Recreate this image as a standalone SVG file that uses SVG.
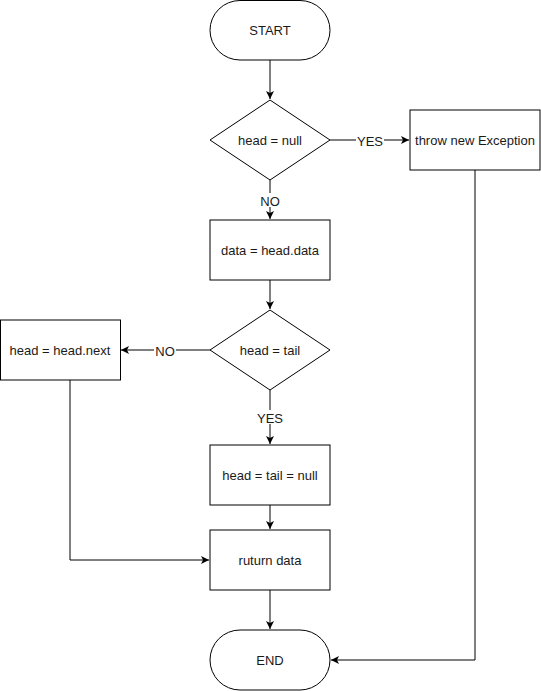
<svg xmlns="http://www.w3.org/2000/svg" width="541" height="691" viewBox="0 0 541 691">
<style>
.n{fill:#fff;stroke:#000;stroke-width:1}
.t{font-family:"Liberation Sans",Arial,Helvetica,sans-serif;font-size:13px;fill:#1a1a1a;text-anchor:middle;dominant-baseline:central}
.e{fill:none;stroke:#000;stroke-width:1}
.lb{fill:#fff}
</style>
<defs>
<marker id="a" markerUnits="userSpaceOnUse" markerWidth="10" markerHeight="10" refX="8" refY="4.5" orient="auto">
<path d="M0,0.5 L8,4.5 L0,8.5 L2,4.5 Z" fill="#000"/>
</marker>
</defs>
<rect width="541" height="691" fill="#fff"/>
<g id="connectors">
<path class="e" d="M270,60 V99" marker-end="url(#a)"/>
<path class="e" d="M330,140 H409" marker-end="url(#a)"/>
<path class="e" d="M270,180 V219" marker-end="url(#a)"/>
<path class="e" d="M270,280 V309" marker-end="url(#a)"/>
<path class="e" d="M210,350 H121" marker-end="url(#a)"/>
<path class="e" d="M270,390 V444" marker-end="url(#a)"/>
<path class="e" d="M270,505 V529" marker-end="url(#a)"/>
<path class="e" d="M70,380 V560 H209" marker-end="url(#a)"/>
<path class="e" d="M270,590 V629" marker-end="url(#a)"/>
<path class="e" d="M475,170 V660 H331" marker-end="url(#a)"/>
<g id="labels">
<rect class="lb" x="356" y="133" width="28" height="14"/>
<text class="t" x="370" y="141">YES</text>
<rect class="lb" x="259" y="193" width="22" height="14"/>
<text class="t" x="270" y="201">NO</text>
<rect class="lb" x="154" y="343" width="22" height="14"/>
<text class="t" x="165" y="351">NO</text>
<rect class="lb" x="255" y="410" width="30" height="14"/>
<text class="t" x="270" y="418">YES</text>
</g>
</g>
<g id="start"><rect class="n" x="210" y="0.5" width="120" height="59.5" rx="30" ry="30"/><text class="t" x="270" y="30.5">START</text></g>
<g id="cond1"><path class="n" d="M270,100 L330,140 L270,180 L210,140 Z"/><text class="t" x="270" y="140.5">head = null</text></g>
<g id="throw"><rect class="n" x="410" y="110" width="130" height="60"/><text class="t" x="475" y="140.5">throw new Exception</text></g>
<g id="data"><rect class="n" x="210" y="220" width="120" height="60"/><text class="t" x="270" y="250.5">data = head.data</text></g>
<g id="cond2"><path class="n" d="M270,310 L330,350 L270,390 L210,350 Z"/><text class="t" x="270" y="350.5">head = tail</text></g>
<g id="next"><rect class="n" x="0.5" y="320" width="120" height="60"/><text class="t" x="60" y="350.5">head = head.next</text></g>
<g id="nulls"><rect class="n" x="210" y="445" width="120" height="60"/><text class="t" x="270" y="475.5">head = tail = null</text></g>
<g id="ret"><rect class="n" x="210" y="530" width="120" height="60"/><text class="t" x="270" y="560.5">ruturn data</text></g>
<g id="end"><rect class="n" x="210" y="630" width="120" height="60" rx="30" ry="30"/><text class="t" x="270" y="660.5">END</text></g>
</svg>
